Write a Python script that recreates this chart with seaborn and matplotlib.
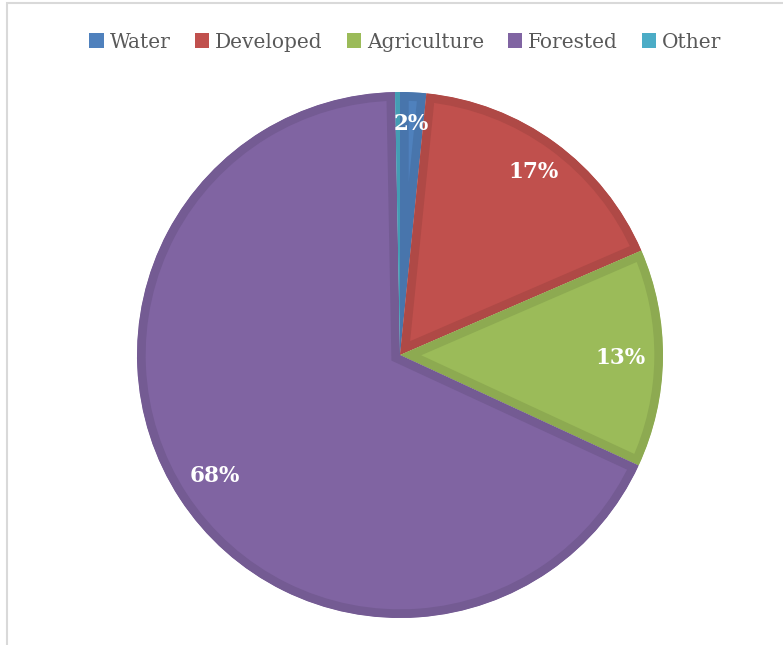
import matplotlib
matplotlib.use("Agg")
import matplotlib.pyplot as plt
from matplotlib.patches import Patch, Rectangle
import matplotlib.colors as mcolors
import seaborn as sns
import numpy as np

# Land cover shares (percent), clockwise from 12 o'clock
categories = ["Water", "Developed", "Agriculture", "Forested", "Other"]
shares = [1.6, 16.9, 13.4, 67.8, 0.3]
labels = ["2%", "17%", "13%", "68%", ""]
palette = ["#4F81BD", "#C0504D", "#9BBB59", "#8064A2", "#4BACC6"]

sns.set_theme(style="white")
plt.rcParams["font.family"] = ["DejaVu Serif"]

W, H = 783, 645
fig = plt.figure(figsize=(W / 100, H / 100), dpi=100)
ax = fig.add_axes([0, 0, 1, 1])

cx, cy, R = 400, H - 355, 263
wedges, _ = ax.pie(shares, colors=sns.color_palette(palette), startangle=90,
                   counterclock=False, center=(cx, cy), radius=R, frame=True)
ax.set_xlim(0, W)
ax.set_ylim(0, H)
ax.set_aspect("equal")
ax.axis("off")


def darker(c, f=0.91):
    r, g, b = mcolors.to_rgb(c)
    return (r * f, g * f, b * f)


# inner darker rim: a wide edge clipped to the wedge itself
for w, col in zip(wedges, palette):
    w.set_edgecolor(darker(col))
    w.set_linewidth(12.5)
    w.set_joinstyle("miter")
    w.set_clip_on(True)
    w.set_clip_path(w)

# percentage labels placed along each wedge's mid angle
label_r = [0.88, 0.86, 0.84, 0.84, 0.0]
for w, lab, lr in zip(wedges, labels, label_r):
    if not lab:
        continue
    ang = np.deg2rad((w.theta1 + w.theta2) / 2)
    x = cx + lr * R * np.cos(ang)
    y = cy + lr * R * np.sin(ang)
    ax.text(x, y, lab, ha="center", va="center", color="white",
            fontsize=15.5, fontweight="bold")

handles = [Patch(facecolor=c, edgecolor="none") for c in palette]
leg = fig.legend(handles, categories, loc="center", bbox_to_anchor=(0.518, 1 - 42 / H),
                 ncol=5, frameon=False, fontsize=14.5, handlelength=0.7,
                 handleheight=0.7, handletextpad=0.3, columnspacing=1.2,
                 labelcolor="#595959")

# chart area border
fig.add_artist(Rectangle((7 / W, -0.2), 1.2, 1.2 - 3 / H, transform=fig.transFigure,
                         fill=False, edgecolor="#D9D9D9", linewidth=1.5))

fig.savefig("out.png", dpi=100)
